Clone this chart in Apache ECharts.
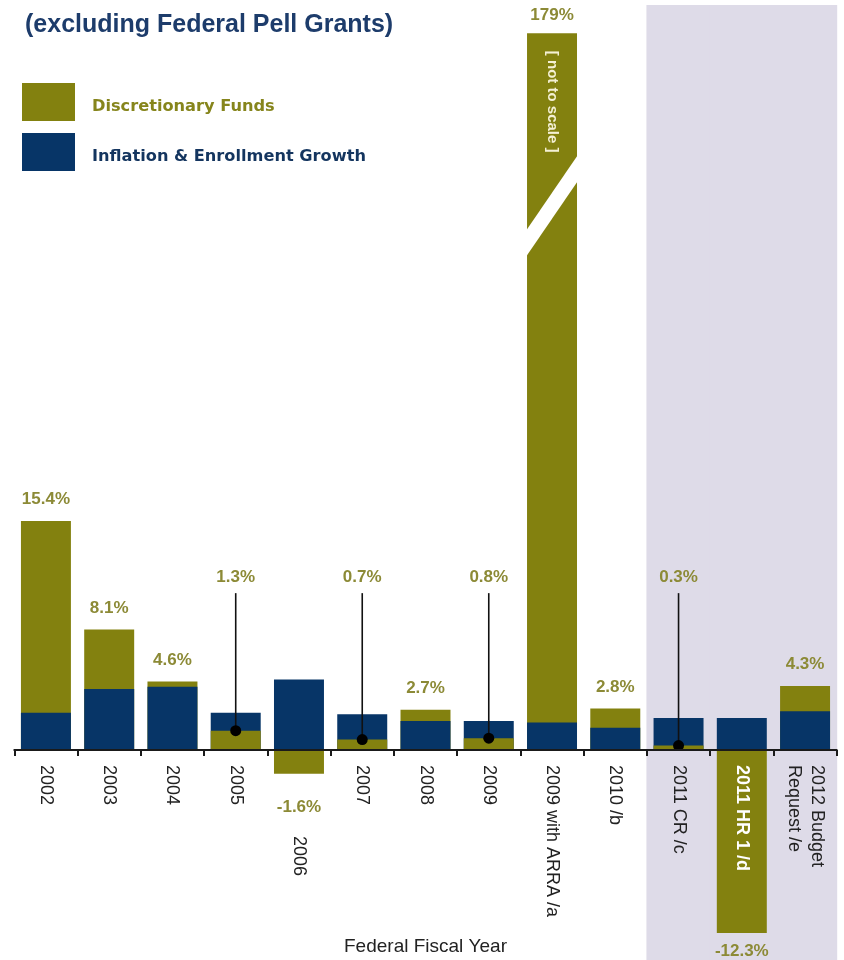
<!DOCTYPE html>
<html>
<head>
<meta charset="utf-8">
<script src="https://cdn.jsdelivr.net/npm/echarts@6/dist/echarts.min.js"></script>
<style>
  html, body { margin: 0; padding: 0; background: #ffffff; }
  #chart { width: 844px; height: 960px; }
</style>
</head>
<body>
<div id="chart"></div>
<script>
// ---------------- DATA ----------------
const categories = ['2002', '2003', '2004', '2005', '2006', '2007', '2008', '2009',
  '2009 with ARRA /a', '2010 /b', '2011 CR /c', '2011 HR 1 /d', '2012 Budget\nRequest /e'];
// Annual % change in discretionary funds (labelled values)
const discretionaryPct = [15.4, 8.1, 4.6, 1.3, -1.6, 0.7, 2.7, 0.8, 179, 2.8, 0.3, -12.3, 4.3];
// Inflation & enrollment growth %
const inflationEnrollmentPct = [2.5, 4.1, 4.25, 2.5, 4.75, 2.4, 1.95, 1.95, 1.85, 1.5, 2.15, 2.15, 2.6];
// Categories shown on the shaded (proposed / pending) background
const shadedCategories = ['2011 CR /c', '2011 HR 1 /d', '2012 Budget\nRequest /e'];
const legendNames = ['Discretionary Funds', 'Inflation & Enrollment Growth'];

// ---------------- LAYOUT / STYLE CONSTANTS ----------------
const OLIVE = '#83810f';
const NAVY = '#073567';
const LABEL_OLIVE = '#8c8a36';
const SHADE = '#dedbe8';
const FONT = "'Liberation Sans', Arial, sans-serif";
const LEGEND_FONT = "'DejaVu Sans', Verdana, sans-serif";
const Y_MIN = -14.12, Y_MAX = 50.1;
const GRID_TOP = 5, GRID_BOTTOM = 0, CHART_H = 960;
const OFF_SCALE_CAP = 48.2;        // displayed height of the "not to scale" bar
const BREAK_LEVEL = 36.6;          // where the break stripe sits
const NOTE_LEVEL = 43.6;           // where "[ not to scale ]" sits
const CALLOUT_TEXT_LEVEL = 11.6;   // callout label level
const CALLOUT_LINE_LEVEL = 10.55;  // callout leader top
const LOWERED_LABEL = '2006';
const IN_BAR_LABEL = '2011 HR 1 /d';
const BAR_FRACTION = 0.79;
// distance from grid bottom up to the zero line (x axis sits on zero)
const GRID_H = CHART_H - GRID_TOP - GRID_BOTTOM;
const ZERO_OFFSET = GRID_H * (0 - Y_MIN) / (Y_MAX - Y_MIN);

const fmt = v => String(v) + '%';

// ---------------- DERIVED SERIES ----------------
const oliveBack = discretionaryPct.map((d, i) => {
  const shown = Math.min(d, OFF_SCALE_CAP);
  if (d < 0) {
    return { value: shown, label: { show: true, position: 'bottom', distance: d > -5 ? 25 : 10 } };
  }
  if (d >= inflationEnrollmentPct[i]) {
    return { value: shown, label: { show: true, position: 'top', distance: d > OFF_SCALE_CAP ? 9 : 13 } };
  }
  return '-';
});
const oliveFront = discretionaryPct.map((d, i) => (d >= 0 && d < inflationEnrollmentPct[i]) ? d : '-');
const calloutData = [];
discretionaryPct.forEach((d, i) => {
  if (d >= 0 && d < inflationEnrollmentPct[i]) calloutData.push([i, d]);
});
const shadeData = shadedCategories.map(c => [categories.indexOf(c), 0]);
const breakData = discretionaryPct
  .map((d, i) => d > OFF_SCALE_CAP ? [i, BREAK_LEVEL] : null)
  .filter(x => x);

const chart = echarts.init(document.getElementById('chart'), null, { renderer: 'canvas' });

const option = {
  animation: false,
  backgroundColor: '#ffffff',
  title: {
    text: '(excluding Federal Pell Grants)',
    left: 20, top: 8,
    textStyle: { fontFamily: FONT, fontSize: 25, fontWeight: 'bold', color: '#1d3c6b' }
  },
  legend: {
    orient: 'vertical',
    left: 17, top: 78,
    itemWidth: 53, itemHeight: 38, itemGap: 12,
    icon: 'rect',
    selectedMode: false,
    data: legendNames,
    formatter: name => (name === legendNames[0] ? '{d|' : '{g|') + name + '}',
    textStyle: {
      fontFamily: LEGEND_FONT, fontWeight: 'bold', fontSize: 16.2,
      rich: {
        d: { fontFamily: LEGEND_FONT, fontWeight: 'bold', fontSize: 16.2, color: '#86851c', padding: [10, 0, 0, 12] },
        g: { fontFamily: LEGEND_FONT, fontWeight: 'bold', fontSize: 16.2, color: '#14355f', padding: [10, 0, 0, 12] }
      }
    }
  },
  grid: { left: 14.3, right: 7.3, top: GRID_TOP, bottom: GRID_BOTTOM, containLabel: false, outerBoundsMode: 'none' },
  xAxis: {
    type: 'category',
    data: categories,
    z: 10,
    position: 'bottom',
    offset: -ZERO_OFFSET,
    axisLine: { onZero: false, lineStyle: { color: '#1a1a1a', width: 2 } },
    axisTick: { show: true, length: 6, lineStyle: { color: '#1a1a1a', width: 2 } },
    axisLabel: {
      interval: 0, rotate: -90, margin: 15,
      fontFamily: FONT, fontSize: 18, color: '#222', lineHeight: 23,
      formatter: v => v === LOWERED_LABEL ? '{low|' + v + '}' : (v === IN_BAR_LABEL ? '{inbar|' + v + '}' : v),
      rich: {
        low: { fontFamily: FONT, fontSize: 18, color: '#222', padding: [0, 0, 0, 71] },
        inbar: { fontFamily: FONT, fontSize: 18, color: '#ffffff', fontWeight: 'bold' }
      }
    },
    name: 'Federal Fiscal Year',
    nameLocation: 'middle',
    nameGap: 187,
    nameTextStyle: { fontFamily: FONT, fontSize: 19, color: '#222' }
  },
  yAxis: { type: 'value', min: Y_MIN, max: Y_MAX, show: false, splitLine: { show: false } },
  series: [
    {
      type: 'custom', name: 'shade', z: 1, silent: true,
      data: shadeData,
      renderItem: (params, api) => {
        const c = api.coord([api.value(0), 0]);
        const w = api.size([1, 0])[0];
        const cs = params.coordSys;
        return { type: 'rect', shape: { x: c[0] - w / 2 - 0.5, y: cs.y, width: w + 1, height: cs.height }, style: { fill: SHADE } };
      }
    },
    {
      type: 'bar', name: legendNames[0], z: 2,
      data: oliveBack, barWidth: (BAR_FRACTION * 100) + '%', barGap: '-100%',
      itemStyle: { color: OLIVE },
      label: {
        show: false, fontFamily: FONT, fontSize: 17, fontWeight: 'bold', color: LABEL_OLIVE, lineHeight: 17,
        formatter: p => fmt(discretionaryPct[p.dataIndex])
      }
    },
    {
      type: 'bar', name: legendNames[1], z: 2,
      data: inflationEnrollmentPct, barWidth: (BAR_FRACTION * 100) + '%', barGap: '-100%',
      itemStyle: { color: NAVY }
    },
    {
      type: 'bar', name: legendNames[0], z: 2,
      data: oliveFront, barWidth: (BAR_FRACTION * 100) + '%', barGap: '-100%',
      itemStyle: { color: OLIVE }
    },
    {
      type: 'custom', name: 'callouts', z: 3, silent: true,
      data: calloutData,
      renderItem: (params, api) => {
        const i = api.value(0), v = api.value(1);
        const dot = api.coord([i, v]);
        const top = api.coord([i, CALLOUT_LINE_LEVEL]);
        const txt = api.coord([i, CALLOUT_TEXT_LEVEL]);
        return {
          type: 'group',
          children: [
            { type: 'line', shape: { x1: dot[0], y1: top[1], x2: dot[0], y2: dot[1] }, style: { stroke: '#111', lineWidth: 1.6 } },
            { type: 'circle', shape: { cx: dot[0], cy: dot[1], r: 5.5 }, style: { fill: '#000' } },
            { type: 'text', x: txt[0], y: txt[1], style: { text: fmt(v), fill: LABEL_OLIVE, font: 'bold 17px ' + FONT, align: 'center', verticalAlign: 'middle' } }
          ]
        };
      }
    },
    {
      type: 'custom', name: 'break', z: 4, silent: true,
      data: breakData,
      renderItem: (params, api) => {
        const i = api.value(0);
        const c = api.coord([i, api.value(1)]);
        const note = api.coord([i, NOTE_LEVEL]);
        const bw = api.size([1, 0])[0] * BAR_FRACTION;
        const L = c[0] - bw / 2 - 1, R = c[0] + bw / 2 + 1;
        const drop = 38, half = 13;
        return {
          type: 'group',
          children: [
            { type: 'polygon', shape: { points: [[L, c[1] + drop - half], [R, c[1] - drop - half], [R, c[1] - drop + half], [L, c[1] + drop + half]] }, style: { fill: '#ffffff' } },
            { type: 'text', x: note[0], y: note[1], rotation: -Math.PI / 2, style: { text: '[ not to scale ]', fill: '#f4f0d4', font: 'bold 15px ' + FONT, align: 'center', verticalAlign: 'middle' } }
          ]
        };
      }
    }
  ]
};
chart.setOption(option);
</script>
</body>
</html>
